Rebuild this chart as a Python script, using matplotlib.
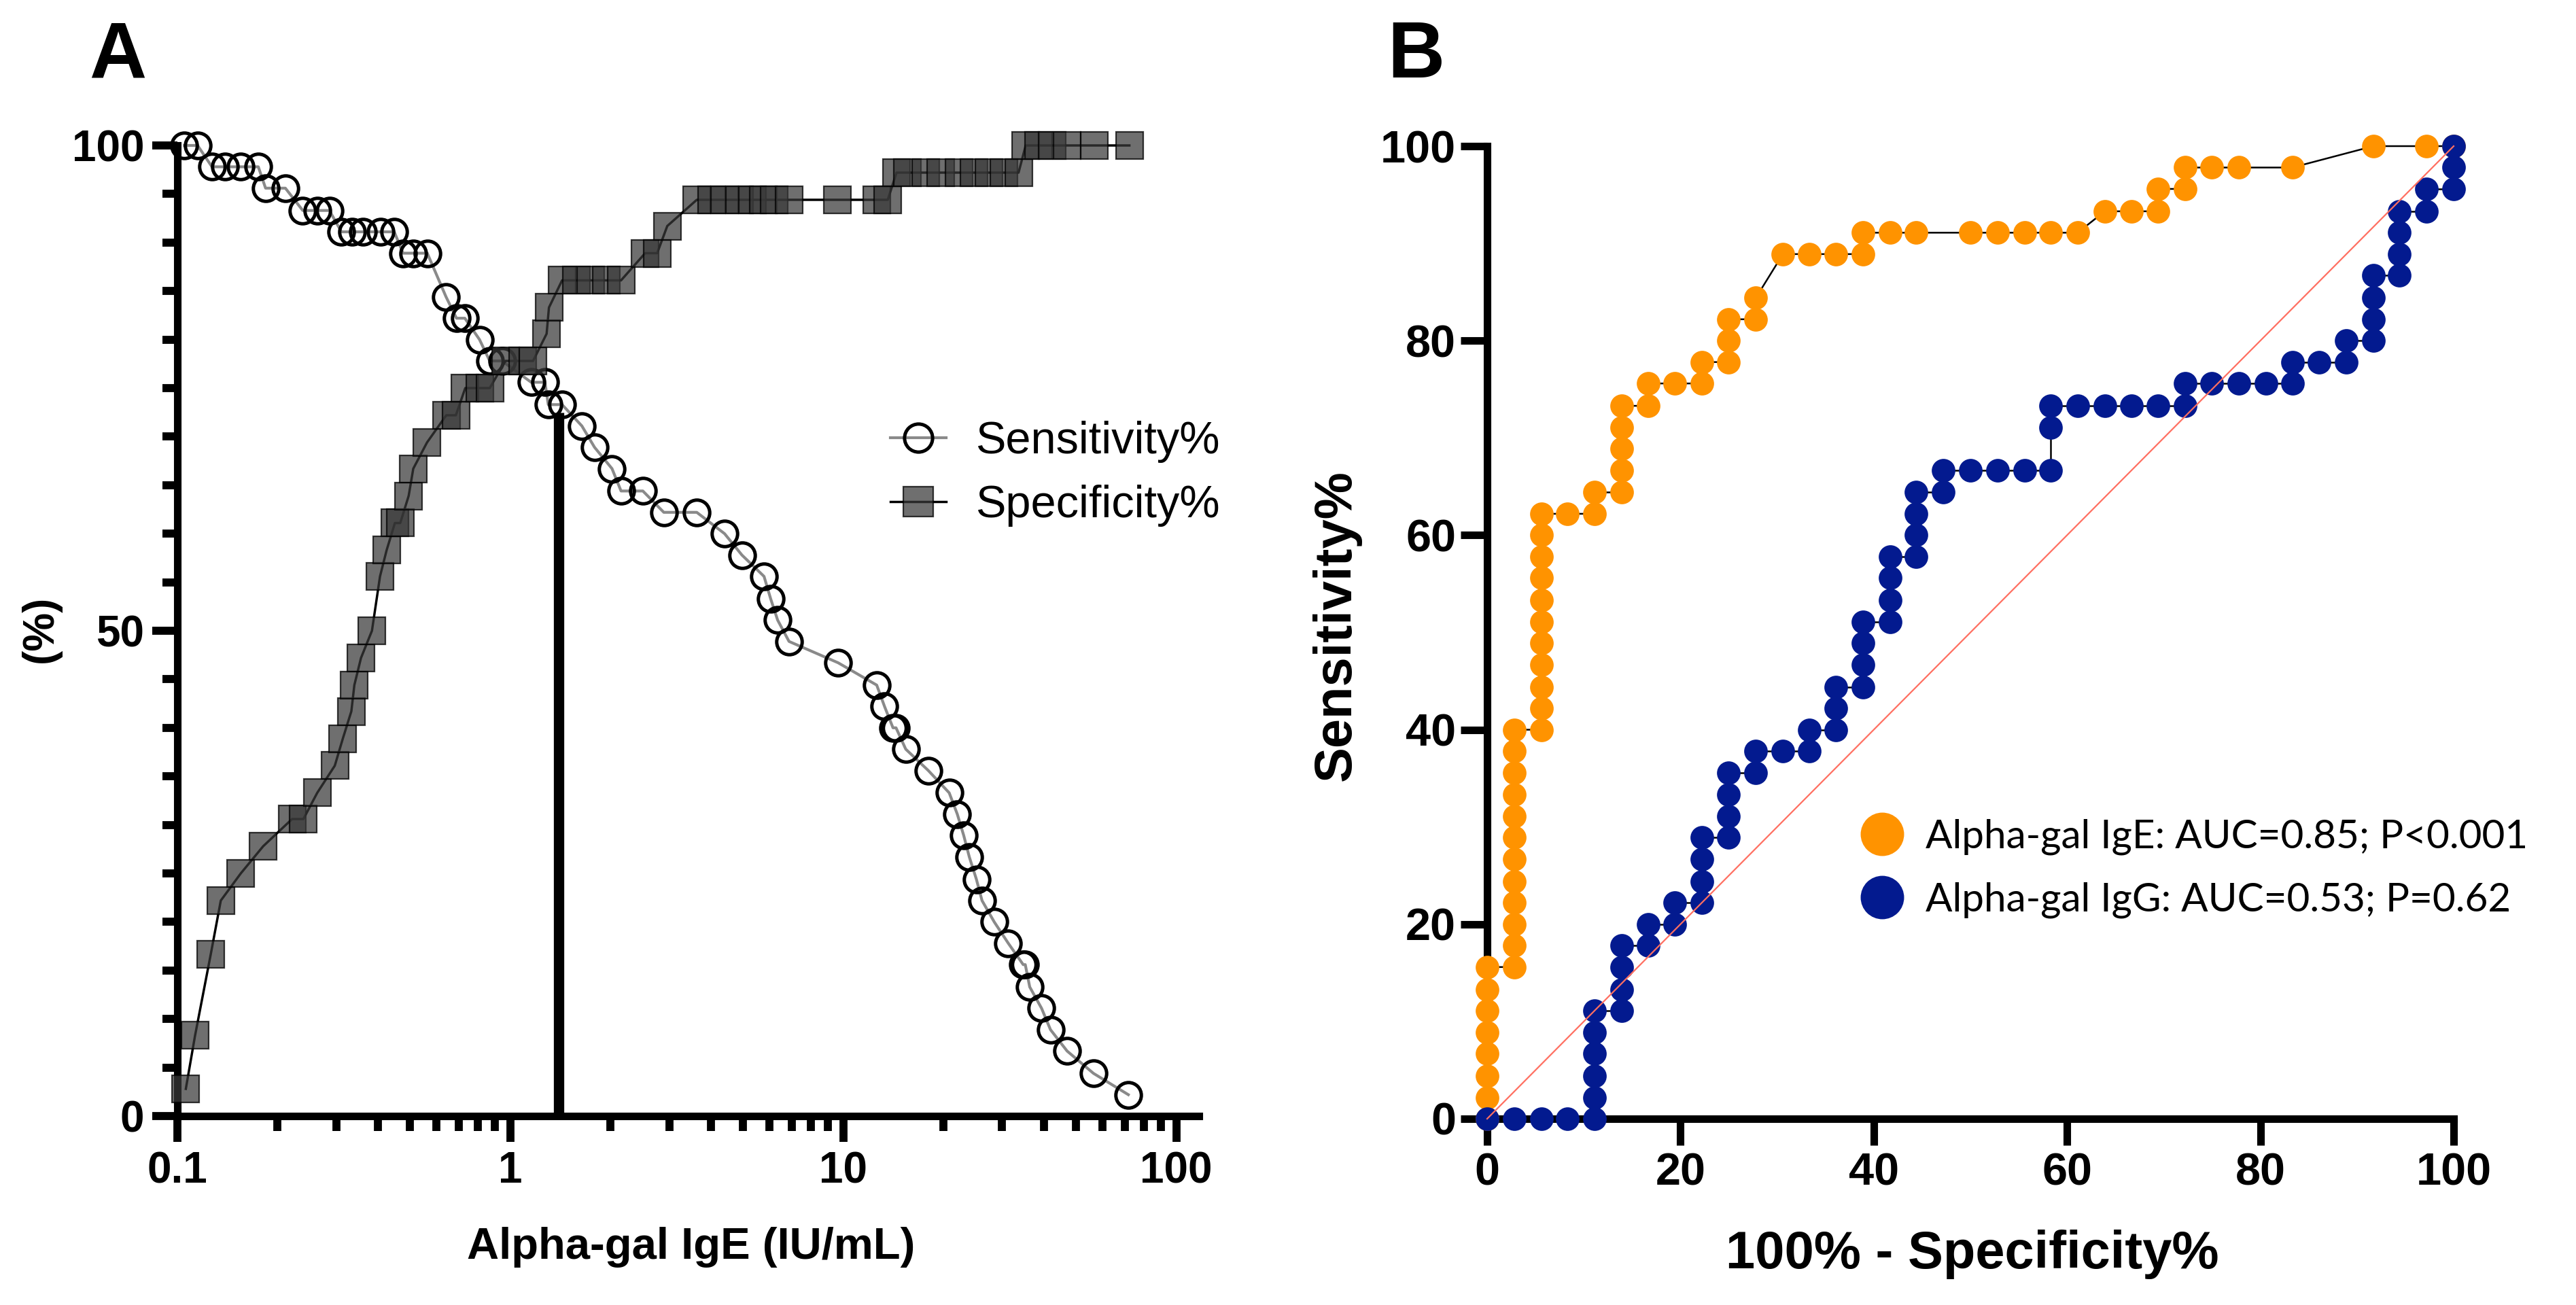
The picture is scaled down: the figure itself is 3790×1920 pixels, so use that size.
import matplotlib
matplotlib.use("Agg")
import matplotlib.pyplot as plt
from matplotlib.lines import Line2D
from matplotlib.ticker import FixedLocator, LogLocator, MultipleLocator, NullFormatter

# ---------------- data ----------------
# Panel A: sensitivity / specificity vs cut-off (IU/mL)
sens_cutoff = [0.105, 0.115, 0.127, 0.139, 0.155, 0.175, 0.184, 0.211, 0.238, 0.263,
               0.286, 0.311, 0.335, 0.360, 0.407, 0.448, 0.476, 0.511, 0.563, 0.641,
               0.689, 0.730, 0.808, 0.867, 0.944, 1.155, 1.27, 1.30, 1.43, 1.64,
               1.79, 2.02, 2.15, 2.50, 2.89, 3.63, 4.40, 4.96, 5.78, 6.05,
               6.35, 6.87, 9.65, 12.6, 13.3, 14.1, 14.4, 15.4, 18.0, 20.8,
               22.0, 23.0, 23.9, 25.1, 26.1, 28.4, 31.3, 34.7, 35.2, 36.3,
               39.4, 41.9, 47.0, 56.4, 71.8]
sensitivity = [100, 100, 97.8, 97.8, 97.8, 97.8, 95.6, 95.6, 93.3, 93.3,
               93.3, 91.1, 91.1, 91.1, 91.1, 91.1, 88.9, 88.9, 88.9, 84.4,
               82.2, 82.2, 80.0, 77.8, 77.8, 75.6, 75.6, 73.3, 73.3, 71.1,
               68.9, 66.7, 64.4, 64.4, 62.2, 62.2, 60.0, 57.8, 55.6, 53.3,
               51.1, 48.9, 46.7, 44.4, 42.2, 40.0, 40.0, 37.8, 35.6, 33.3,
               31.1, 28.9, 26.7, 24.4, 22.2, 20.0, 17.8, 15.6, 15.6, 13.3,
               11.1, 8.9, 6.7, 4.4, 2.2]
spec_cutoff = [0.106, 0.113, 0.126, 0.135, 0.155, 0.181, 0.221, 0.239, 0.263, 0.297,
               0.314, 0.333, 0.340, 0.356, 0.384, 0.406, 0.425, 0.450, 0.467, 0.495,
               0.511, 0.562, 0.642, 0.686, 0.732, 0.81, 0.867, 0.967, 1.09, 1.17,
               1.285, 1.306, 1.43, 1.58, 1.74, 1.94, 2.15, 2.54, 2.76, 2.96,
               3.63, 4.02, 4.40, 4.87, 5.33, 5.75, 6.21, 6.88, 9.6, 12.6,
               13.6, 14.45, 15.6, 17.7, 19.6, 22.3, 24.7, 27.4, 30.3, 33.6,
               35.3, 38.6, 42.3, 46.9, 56.8, 72.3]
specificity = [2.8, 8.3, 16.7, 22.2, 25.0, 27.8, 30.6, 30.6, 33.3, 36.1,
               38.9, 41.7, 44.4, 47.2, 50.0, 55.6, 58.3, 61.1, 61.1, 63.9,
               66.7, 69.4, 72.2, 72.2, 75.0, 75.0, 75.0, 77.8, 77.8, 77.8,
               80.6, 83.3, 86.1, 86.1, 86.1, 86.1, 86.1, 88.9, 88.9, 91.7,
               94.4, 94.4, 94.4, 94.4, 94.4, 94.4, 94.4, 94.4, 94.4, 94.4,
               94.4, 97.2, 97.2, 97.2, 97.2, 97.2, 97.2, 97.2, 97.2, 97.2,
               100, 100, 100, 100, 100, 100]
best_cutoff = 1.40
best_cutoff_sens = 72.5

# Panel B: ROC curves (100% - specificity, sensitivity)
ige_fpr = [0, 0, 0, 0, 0, 0, 0, 0,
           2.8, 2.8, 2.8, 2.8, 2.8, 2.8, 2.8, 2.8, 2.8, 2.8, 2.8, 2.8,
           5.6, 5.6, 5.6, 5.6, 5.6, 5.6, 5.6, 5.6, 5.6, 5.6, 5.6,
           8.3, 11.1, 11.1, 13.9, 13.9, 13.9, 13.9, 13.9,
           16.7, 16.7, 19.4, 22.2, 22.2, 25.0, 25.0, 25.0, 27.8, 27.8,
           30.6, 33.3, 36.1, 38.9, 38.9, 41.7, 44.4, 50.0, 52.8, 55.6, 58.3, 61.1,
           63.9, 66.7, 69.4, 69.4, 72.2, 72.2, 75.0, 77.8, 83.3, 91.7, 97.2, 100]
ige_tpr = [0, 2.2, 4.4, 6.7, 8.9, 11.1, 13.3, 15.6,
           15.6, 17.8, 20.0, 22.2, 24.4, 26.7, 28.9, 31.1, 33.3, 35.6, 37.8, 40.0,
           40.0, 42.2, 44.4, 46.7, 48.9, 51.1, 53.3, 55.6, 57.8, 60.0, 62.2,
           62.2, 62.2, 64.4, 64.4, 66.7, 68.9, 71.1, 73.3,
           73.3, 75.6, 75.6, 75.6, 77.8, 77.8, 80.0, 82.2, 82.2, 84.4,
           88.9, 88.9, 88.9, 88.9, 91.1, 91.1, 91.1, 91.1, 91.1, 91.1, 91.1, 91.1,
           93.3, 93.3, 93.3, 95.6, 95.6, 97.8, 97.8, 97.8, 97.8, 100, 100, 100]
igg_fpr = [0, 2.8, 5.6, 8.3, 11.1, 11.1, 11.1, 11.1, 11.1, 11.1,
           13.9, 13.9, 13.9, 13.9, 16.7, 16.7, 19.4, 19.4,
           22.2, 22.2, 22.2, 22.2, 25.0, 25.0, 25.0, 25.0, 27.8, 27.8, 30.6,
           33.3, 33.3, 36.1, 36.1, 36.1, 38.9, 38.9, 38.9, 38.9,
           41.7, 41.7, 41.7, 41.7, 44.4, 44.4, 44.4, 44.4, 47.2, 47.2,
           50.0, 52.8, 55.6, 58.3, 58.3, 58.3, 61.1, 63.9, 66.7, 69.4,
           72.2, 72.2, 75.0, 77.8, 80.6, 83.3, 83.3, 86.1, 88.9, 88.9,
           91.7, 91.7, 91.7, 91.7, 94.4, 94.4, 94.4, 94.4, 97.2, 97.2,
           100, 100, 100]
igg_tpr = [0, 0, 0, 0, 0, 2.2, 4.4, 6.7, 8.9, 11.1,
           11.1, 13.3, 15.6, 17.8, 17.8, 20.0, 20.0, 22.2,
           22.2, 24.4, 26.7, 28.9, 28.9, 31.1, 33.3, 35.6, 35.6, 37.8, 37.8,
           37.8, 40.0, 40.0, 42.2, 44.4, 44.4, 46.7, 48.9, 51.1,
           51.1, 53.3, 55.6, 57.8, 57.8, 60.0, 62.2, 64.4, 64.4, 66.7,
           66.7, 66.7, 66.7, 66.7, 71.1, 73.3, 73.3, 73.3, 73.3, 73.3,
           73.3, 75.6, 75.6, 75.6, 75.6, 75.6, 77.8, 77.8, 77.8, 80.0,
           80.0, 82.2, 84.4, 86.7, 86.7, 88.9, 91.1, 93.3, 93.3, 95.6,
           95.6, 97.8, 100]
chance = [0, 100]

legend_A = ["Sensitivity%", "Specificity%"]
legend_B = ["Alpha-gal IgE: AUC=0.85; P<0.001", "Alpha-gal IgG: AUC=0.53; P=0.62"]

# ---------------- figure ----------------
W, H = 3791, 1920
fig = plt.figure(figsize=(W / 100, H / 100), dpi=100)
BOLD = dict(family=["Liberation Sans", "DejaVu Sans"], weight="bold")
REG = dict(family=["Liberation Sans", "DejaVu Sans"])

# ---- Panel A ----
axA = fig.add_axes([261 / W, (H - 1642) / H, (1764 - 261) / W, (1642 - 214) / H])
axA.set_xscale("log")
axA.set_xlim(0.1, 117)
axA.set_ylim(0, 100)
for s in ("top", "right"):
    axA.spines[s].set_visible(False)
for s in ("left", "bottom"):
    axA.spines[s].set_linewidth(8)

axA.vlines(best_cutoff, 0, best_cutoff_sens, color="black", lw=11, zorder=2)
l_sens, = axA.plot(sens_cutoff, sensitivity, color="#8a8a8a", lw=3, marker="o", ms=27,
                   mfc="none", mec="black", mew=3.6, clip_on=False, zorder=4)
l_spec, = axA.plot(spec_cutoff, specificity, color="black", lw=2.5, marker="s", ms=29,
                   mfc=(0.22, 0.22, 0.22, 0.72), mec=(0, 0, 0, 0.75), mew=1.6,
                   clip_on=False, zorder=5)

axA.xaxis.set_major_locator(FixedLocator([0.1, 1, 10, 100]))
axA.set_xticklabels(["0.1", "1", "10", "100"])
axA.xaxis.set_minor_locator(LogLocator(base=10, subs=range(2, 10)))
axA.xaxis.set_minor_formatter(NullFormatter())
axA.set_yticks([0, 50, 100])
axA.yaxis.set_minor_locator(MultipleLocator(5))
axA.tick_params(which="major", length=27, width=8.5, labelsize=46)
axA.tick_params(which="minor", length=16, width=8.5)
axA.tick_params(axis="x", which="major", pad=10)
axA.tick_params(axis="y", which="major", pad=8)
for lab in axA.get_xticklabels() + axA.get_yticklabels():
    lab.set_fontfamily(BOLD["family"])
    lab.set_fontweight("bold")

axA.set_xlabel("Alpha-gal IgE (IU/mL)", fontsize=47, va="center", **BOLD)
axA.xaxis.set_label_coords(0.503, (1642 - 1835) / 1428)
axA.set_ylabel("(%)", fontsize=46, va="center", **BOLD)
axA.yaxis.set_label_coords((60 - 261) / 1503, 0.502)

axA.legend([l_sens, l_spec], legend_A, loc="center left", frameon=False,
           bbox_to_anchor=(1310 / W, (H - 697) / H), bbox_transform=fig.transFigure,
           borderpad=0, borderaxespad=0, handlelength=1.23, handletextpad=0.65,
           labelspacing=0.48, numpoints=1, markerscale=1.1,
           prop=dict(family=REG["family"], size=48))

# ---- Panel B ----
axB = fig.add_axes([2188 / W, (H - 1646) / H, (3610 - 2188) / W, (1646 - 215) / H])
axB.set_xlim(0, 100)
axB.set_ylim(0, 100)
for s in ("top", "right"):
    axB.spines[s].set_visible(False)
for s in ("left", "bottom"):
    axB.spines[s].set_linewidth(8)

orange = "#FF9300"
navy = "#031A8F"
axB.plot(ige_fpr, ige_tpr, color="black", lw=1.8, marker="o", ms=25, mfc=orange,
         mec=orange, mew=0, clip_on=False, zorder=3)
axB.plot(igg_fpr, igg_tpr, color="black", lw=1.8, marker="o", ms=25, mfc=navy,
         mec=navy, mew=0, clip_on=False, zorder=4)
axB.plot(chance, chance, color="#FF6F61", lw=1.6, zorder=6, clip_on=False)

axB.set_xticks([0, 20, 40, 60, 80, 100])
axB.set_yticks([0, 20, 40, 60, 80, 100])
axB.tick_params(which="major", length=28, width=8, labelsize=48)
axB.tick_params(axis="x", pad=8)
axB.tick_params(axis="y", pad=5)
for lab in axB.get_xticklabels() + axB.get_yticklabels():
    lab.set_fontfamily(BOLD["family"])
    lab.set_fontweight("bold")

axB.set_xlabel("100% - Specificity%", fontsize=56, va="center", **BOLD)
axB.xaxis.set_label_coords(0.502, (1646 - 1845) / 1431)
axB.set_ylabel("Sensitivity%", fontsize=56, va="center", **BOLD)
axB.yaxis.set_label_coords((1966 - 2188) / 1422, 0.507)

hB = [Line2D([], [], ls="none", marker="o", ms=46, mfc=orange, mec=orange, mew=0),
      Line2D([], [], ls="none", marker="o", ms=46, mfc=navy, mec=navy, mew=0)]
axB.legend(hB, legend_B, loc="center left", frameon=False,
           bbox_to_anchor=(2740 / W, (H - 1278) / H), bbox_transform=fig.transFigure,
           borderpad=0, borderaxespad=0, handlelength=1.0, handletextpad=0.6,
           labelspacing=0.68, prop=dict(family=["Lato", "DejaVu Sans"], size=42))

# ---- panel letters ----
fig.text(173 / W, (H - 115) / H, "A", fontsize=84, ha="center", va="baseline", **BOLD)
fig.text(2083 / W, (H - 114) / H, "B", fontsize=84, ha="center", va="baseline", **BOLD)

fig.savefig("out.png", dpi=100, facecolor="white")
